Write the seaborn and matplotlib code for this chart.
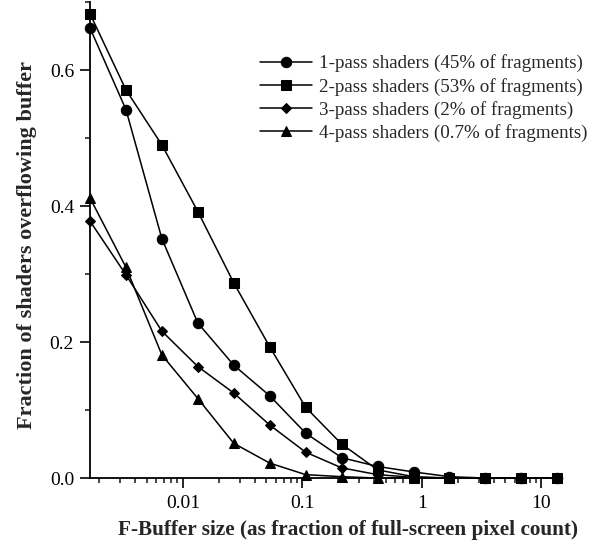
import numpy as np
import pandas as pd
import matplotlib
matplotlib.use("Agg")
import matplotlib.pyplot as plt
import seaborn as sns
from matplotlib.ticker import LogLocator, MultipleLocator, FixedFormatter, FixedLocator

# F-Buffer sizes: 2^9 .. 2^22 fragments over a 640x480 screen
buffer_sizes = [512 * 2 ** k / 307200 for k in range(14)]

pass1 = [0.662, 0.542, 0.352, 0.228, 0.166, 0.121, 0.066, 0.030, 0.017, 0.009, 0.002, 0.0, 0.0, 0.0]
pass2 = [0.683, 0.571, 0.490, 0.392, 0.287, 0.193, 0.104, 0.050, 0.012, 0.002, 0.0, 0.0, 0.0, 0.0]
pass3 = [0.378, 0.299, 0.216, 0.164, 0.125, 0.078, 0.038, 0.015, 0.005, 0.001, 0.0, 0.0, 0.0, 0.0]
pass4 = [0.412, 0.310, 0.181, 0.117, 0.051, 0.022, 0.005, 0.002, 0.0, 0.0, 0.0, 0.0, 0.0, 0.0]

series_labels = [
    "1-pass shaders (45% of fragments)",
    "2-pass shaders (53% of fragments)",
    "3-pass shaders (2% of fragments)",
    "4-pass shaders (0.7% of fragments)",
]
series_markers = ["o", "s", "D", "^"]
series_msize = [7.5, 7.5, 5.5, 7.5]

sns.set_style("ticks")
plt.rcParams["font.family"] = ["Liberation Serif", "DejaVu Serif"]

fig = plt.figure(figsize=(6.0, 5.42), dpi=100)
ax = fig.add_axes([0.15, 0.118, 0.787, 0.878])

for label, values, marker, ms in zip(series_labels, [pass1, pass2, pass3, pass4],
                                     series_markers, series_msize):
    df = pd.DataFrame({"size": buffer_sizes, "frac": values})
    sns.lineplot(data=df, x="size", y="frac", ax=ax, color="black", linewidth=1.1,
                 marker=marker, markersize=ms, markeredgecolor="black",
                 markerfacecolor="black", label=label, clip_on=False, zorder=3)

ax.set_xscale("log")
ax.set_xlim(buffer_sizes[0], 15)
ax.set_ylim(0, 0.7)

ax.xaxis.set_major_locator(FixedLocator([0.01, 0.1, 1, 10]))
ax.xaxis.set_major_formatter(FixedFormatter(["0.01", "0.1", "1", "10"]))
ax.xaxis.set_minor_locator(LogLocator(base=10, subs=np.arange(2, 10)))
ax.yaxis.set_major_locator(FixedLocator([0.0, 0.2, 0.4, 0.6]))
ax.yaxis.set_major_formatter(FixedFormatter(["0.0", "0.2", "0.4", "0.6"]))
ax.yaxis.set_minor_locator(MultipleLocator(0.1))

ax.tick_params(which="major", direction="out", length=7.5, width=1.2, labelsize=14,
               colors="black", pad=4)
ax.tick_params(which="minor", direction="out", length=3.5, width=1.2)
ax.tick_params(axis="x", which="major", pad=5)

for side in ["top", "right"]:
    ax.spines[side].set_visible(False)
for side in ["left", "bottom"]:
    ax.spines[side].set_linewidth(1.3)
    ax.spines[side].set_color("black")

ax.set_xlabel("F-Buffer size (as fraction of full-screen pixel count)",
              fontsize=15.3, fontweight="bold", labelpad=7)
ax.set_ylabel("Fraction of shaders overflowing buffer",
              fontsize=16, fontweight="bold")
ax.xaxis.set_label_coords(0.547, -0.088)
ax.yaxis.set_label_coords(-0.113, 0.49)

ax.legend(loc="upper right", bbox_to_anchor=(1.053, 0.89), frameon=False,
          fontsize=13.7, handlelength=2.75, handletextpad=0.35, labelspacing=0.27,
          borderpad=0, borderaxespad=0)

fig.savefig("out.png", dpi=100)
